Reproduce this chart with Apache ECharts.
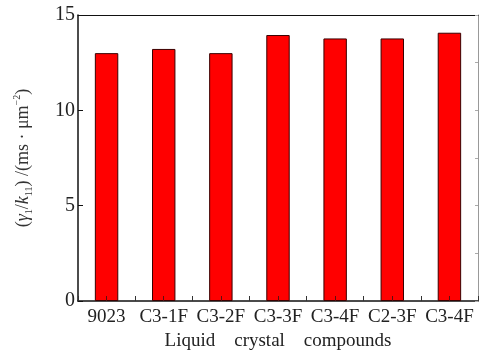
<!DOCTYPE html>
<html><head><meta charset="utf-8">
<script src="https://cdn.jsdelivr.net/npm/echarts@6/dist/echarts.min.js"></script>
<style>html,body{margin:0;padding:0;background:#fff}#c{width:482px;height:350px}</style>
</head><body><div id="c"></div>
<script>
var categories = ['9023', 'C3-1F', 'C3-2F', 'C3-3F', 'C3-4F', 'C2-3F', 'C3-4F'];
var values = [13.0, 13.22, 13.0, 13.95, 13.77, 13.77, 14.07];
var yTicks = [0, 5, 10, 15];

var FONT = '"Liberation Serif", "Times New Roman", serif';
var chart = echarts.init(document.getElementById('c'), null, {renderer: 'canvas'});
chart.setOption({
  animation: false,
  grid: {left: 78, right: 4, top: 15, bottom: 49, containLabel: false, outerBoundsMode: 'none'},
  xAxis: [{
    type: 'category', data: categories, position: 'bottom',
    axisLine: {lineStyle: {color: '#111', width: 1.5}},
    axisTick: {show: true, inside: true, length: 5, lineStyle: {color: '#333'}},
    axisLabel: {color: '#222', fontFamily: FONT, fontSize: 19, margin: 7, interval: 0},
    name: 'Liquid    crystal    compounds', nameLocation: 'middle', nameGap: 29,
    nameTextStyle: {color: '#222', fontFamily: FONT, fontSize: 19}
  }, {
    type: 'category', data: categories, position: 'bottom', z: 5,
    axisLine: {show: false},
    axisTick: {show: true, inside: true, length: 5, alignWithLabel: true, lineStyle: {color: '#5a1010'}},
    axisLabel: {show: false}
  }, {
    type: 'category', data: categories, position: 'top',
    axisLine: {lineStyle: {color: '#111', width: 1}},
    axisTick: {show: false}, axisLabel: {show: false}
  }],
  yAxis: [{
    type: 'value', min: 0, max: 15, interval: 5, position: 'left',
    splitLine: {show: false},
    axisLine: {show: true, lineStyle: {color: '#111', width: 1.5}},
    axisTick: {show: true, inside: true, length: 5, lineStyle: {color: '#111'}},
    axisLabel: {color: '#222', fontFamily: FONT, fontSize: 20, margin: 3,
      formatter: function (v) { return yTicks.indexOf(v) >= 0 ? String(v) : ''; }},
    name: '{p|(}{i|γ}{s|1}{p|/}{i|k}{s|11}{p|) /(ms · μm}{u|−2}{p|)}',
    nameLocation: 'middle', nameRotate: 90, nameGap: 44,
    nameTextStyle: {
      color: '#333', fontFamily: FONT, fontSize: 18,
      rich: {
        p: {fontFamily: FONT, fontSize: 18, color: '#333', lineHeight: 22},
        i: {fontFamily: FONT, fontSize: 18, fontStyle: 'italic', color: '#333', lineHeight: 22},
        s: {fontFamily: FONT, fontSize: 10, color: '#333', lineHeight: 22, verticalAlign: 'bottom', padding: [8, 0, 0, 0]},
        u: {fontFamily: FONT, fontSize: 10, color: '#333', lineHeight: 22, verticalAlign: 'top', padding: [0, 0, 8, 0]}
      }
    }
  }, {
    type: 'value', min: 0, max: 15, interval: 2.5, position: 'right',
    splitLine: {show: false},
    axisLine: {show: true, lineStyle: {color: '#999', width: 1}},
    axisTick: {show: true, inside: true, length: 3, lineStyle: {color: '#aaa'}},
    axisLabel: {show: false}
  }],
  series: [{
    type: 'bar', data: values, barWidth: '41%', xAxisIndex: 0, yAxisIndex: 0,
    itemStyle: {color: '#ff0000', borderColor: '#3a0000', borderWidth: 1}
  }]
});
</script></body></html>
